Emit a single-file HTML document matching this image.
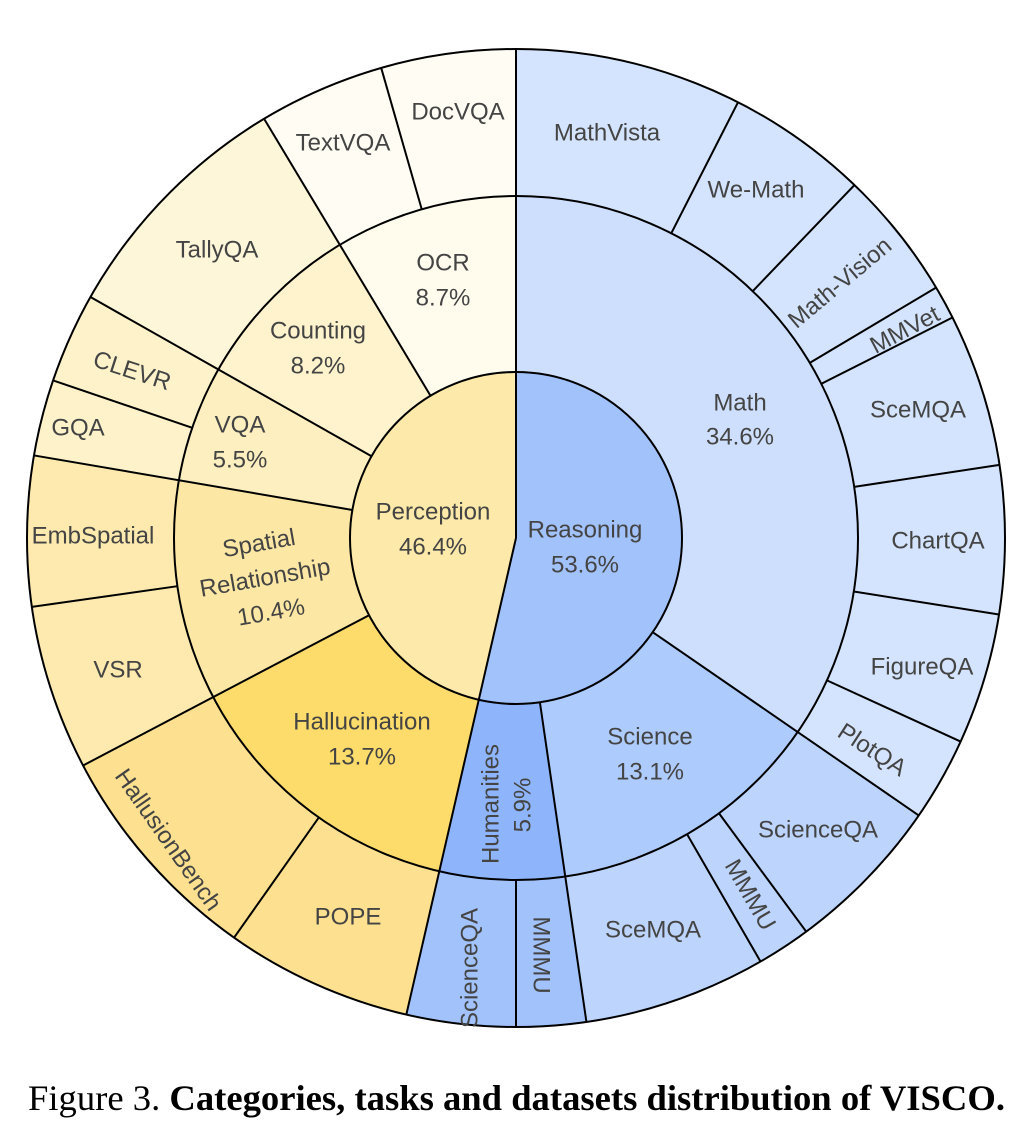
<!DOCTYPE html>
<html><head><meta charset="utf-8"><style>
html,body{margin:0;padding:0;background:#fff;}
svg{display:block;}
.t{font-family:"Liberation Sans",Arial,sans-serif;font-size:24px;fill:#444;text-anchor:middle;dominant-baseline:central;}
</style></head><body>
<svg width="1020" height="1126" viewBox="0 0 1020 1126" xmlns="http://www.w3.org/2000/svg">
<g transform="translate(516,538)">
 <g transform="rotate(-90)" fill="none">
  <circle r="83" stroke-width="166" pathLength="360" stroke="#a2c2fc" stroke-dasharray="192.96 360" stroke-dashoffset="0"/>
  <circle r="83" stroke-width="166" pathLength="360" stroke="#fde9a9" stroke-dasharray="167.04 360" stroke-dashoffset="-192.96"/>
  <circle r="254" stroke-width="176" pathLength="360" stroke="#cedffd" stroke-dasharray="124.56 360" stroke-dashoffset="0"/>
  <circle r="254" stroke-width="176" pathLength="360" stroke="#aecbfd" stroke-dasharray="47.16 360" stroke-dashoffset="-124.56"/>
  <circle r="254" stroke-width="176" pathLength="360" stroke="#8eb5fb" stroke-dasharray="21.24 360" stroke-dashoffset="-171.72"/>
  <circle r="254" stroke-width="176" pathLength="360" stroke="#fddc6b" stroke-dasharray="49.32 360" stroke-dashoffset="-192.96"/>
  <circle r="254" stroke-width="176" pathLength="360" stroke="#fde7a4" stroke-dasharray="37.44 360" stroke-dashoffset="-242.28"/>
  <circle r="254" stroke-width="176" pathLength="360" stroke="#fdefc0" stroke-dasharray="19.8 360" stroke-dashoffset="-279.72"/>
  <circle r="254" stroke-width="176" pathLength="360" stroke="#fef3cd" stroke-dasharray="29.48 360" stroke-dashoffset="-299.52"/>
  <circle r="254" stroke-width="176" pathLength="360" stroke="#fffcee" stroke-dasharray="31 360" stroke-dashoffset="-329"/>
  <circle r="415.5" stroke-width="147" pathLength="360" stroke="#d4e4fe" stroke-dasharray="124.56 360" stroke-dashoffset="0"/>
  <circle r="415.5" stroke-width="147" pathLength="360" stroke="#bdd4fd" stroke-dasharray="47.16 360" stroke-dashoffset="-124.56"/>
  <circle r="415.5" stroke-width="147" pathLength="360" stroke="#a2c2fc" stroke-dasharray="21.24 360" stroke-dashoffset="-171.72"/>
  <circle r="415.5" stroke-width="147" pathLength="360" stroke="#fde190" stroke-dasharray="49.32 360" stroke-dashoffset="-192.96"/>
  <circle r="415.5" stroke-width="147" pathLength="360" stroke="#feeaaf" stroke-dasharray="37.44 360" stroke-dashoffset="-242.28"/>
  <circle r="415.5" stroke-width="147" pathLength="360" stroke="#fef2cb" stroke-dasharray="19.8 360" stroke-dashoffset="-279.72"/>
  <circle r="415.5" stroke-width="147" pathLength="360" stroke="#fef6d9" stroke-dasharray="29.48 360" stroke-dashoffset="-299.52"/>
  <circle r="415.5" stroke-width="147" pathLength="360" stroke="#fffdf3" stroke-dasharray="31 360" stroke-dashoffset="-329"/>
 </g>
 <g stroke="#000" stroke-width="2" fill="none">
  <circle r="166"/><circle r="342"/><circle r="489"/>
  <line y1="0" y2="-489" transform="rotate(0)"/>
  <line y1="0" y2="-489" transform="rotate(192.96)"/>
  <line y1="-166" y2="-489" transform="rotate(124.56)"/>
  <line y1="-166" y2="-489" transform="rotate(171.72)"/>
  <line y1="-166" y2="-489" transform="rotate(242.28)"/>
  <line y1="-166" y2="-489" transform="rotate(279.72)"/>
  <line y1="-166" y2="-489" transform="rotate(299.52)"/>
  <line y1="-166" y2="-489" transform="rotate(329)"/>
  <line y1="-342" y2="-489" transform="rotate(27)"/>
  <line y1="-342" y2="-489" transform="rotate(43.8)"/>
  <line y1="-342" y2="-489" transform="rotate(59.2)"/>
  <line y1="-342" y2="-489" transform="rotate(63.2)"/>
  <line y1="-342" y2="-489" transform="rotate(81.4)"/>
  <line y1="-342" y2="-489" transform="rotate(99)"/>
  <line y1="-342" y2="-489" transform="rotate(114.6)"/>
  <line y1="-342" y2="-489" transform="rotate(143.6)"/>
  <line y1="-342" y2="-489" transform="rotate(150)"/>
  <line y1="-342" y2="-489" transform="rotate(180)"/>
  <line y1="-342" y2="-489" transform="rotate(215.2)"/>
  <line y1="-342" y2="-489" transform="rotate(261.9)"/>
  <line y1="-342" y2="-489" transform="rotate(288.8)"/>
  <line y1="-342" y2="-489" transform="rotate(344)"/>
 </g>
</g>
<text class="t" x="585" y="530">Reasoning</text><text class="t" x="585" y="565">53.6%</text>
<text class="t" x="433" y="512">Perception</text><text class="t" x="433" y="547">46.4%</text>
<text class="t" x="740" y="403">Math</text><text class="t" x="740" y="437">34.6%</text>
<text class="t" x="650" y="737">Science</text><text class="t" x="650" y="772">13.1%</text>
<text class="t" transform="translate(491,804) rotate(-90)">Humanities</text>
<text class="t" transform="translate(523,805) rotate(-90)">5.9%</text>
<text class="t" x="362" y="722">Hallucination</text><text class="t" x="362" y="757">13.7%</text>
<g transform="translate(265,578) rotate(-10)">
<text class="t" x="0" y="-35">Spatial</text><text class="t" x="0" y="0">Relationship</text><text class="t" x="0" y="35">10.4%</text></g>
<text class="t" x="240" y="425">VQA</text><text class="t" x="240" y="460">5.5%</text>
<text class="t" x="318" y="331">Counting</text><text class="t" x="318" y="366">8.2%</text>
<text class="t" x="443" y="263">OCR</text><text class="t" x="443" y="298">8.7%</text>
<text class="t" x="458" y="112">DocVQA</text>
<text class="t" x="607" y="133">MathVista</text>
<text class="t" x="756" y="190">We-Math</text>
<text class="t" transform="translate(840,283) rotate(-40)">Math-Vision</text>
<text class="t" transform="translate(905,330) rotate(-28)">MMVet</text>
<text class="t" x="918" y="410">SceMQA</text>
<text class="t" x="938" y="541">ChartQA</text>
<text class="t" x="922" y="667">FigureQA</text>
<text class="t" transform="translate(872,750) rotate(33)">PlotQA</text>
<text class="t" x="818" y="830">ScienceQA</text>
<text class="t" transform="translate(750,895) rotate(60)">MMMU</text>
<text class="t" x="653" y="930">SceMQA</text>
<text class="t" transform="translate(541,955) rotate(90)">MMMU</text>
<text class="t" transform="translate(470,968) rotate(-90)">ScienceQA</text>
<text class="t" x="348" y="917">POPE</text>
<text class="t" transform="translate(168,840) rotate(55)">HallusionBench</text>
<text class="t" x="118" y="670">VSR</text>
<text class="t" x="93" y="536">EmbSpatial</text>
<text class="t" x="78" y="428">GQA</text>
<text class="t" transform="translate(132,371) rotate(18)">CLEVR</text>
<text class="t" x="217" y="250">TallyQA</text>
<text class="t" x="343" y="143">TextVQA</text>
<text x="28" y="1110" font-family="'Liberation Serif',serif" font-size="36" fill="#000" textLength="977" lengthAdjust="spacingAndGlyphs">Figure 3. <tspan font-weight="bold">Categories, tasks and datasets distribution of VISCO.</tspan></text>
</svg>
</body></html>
